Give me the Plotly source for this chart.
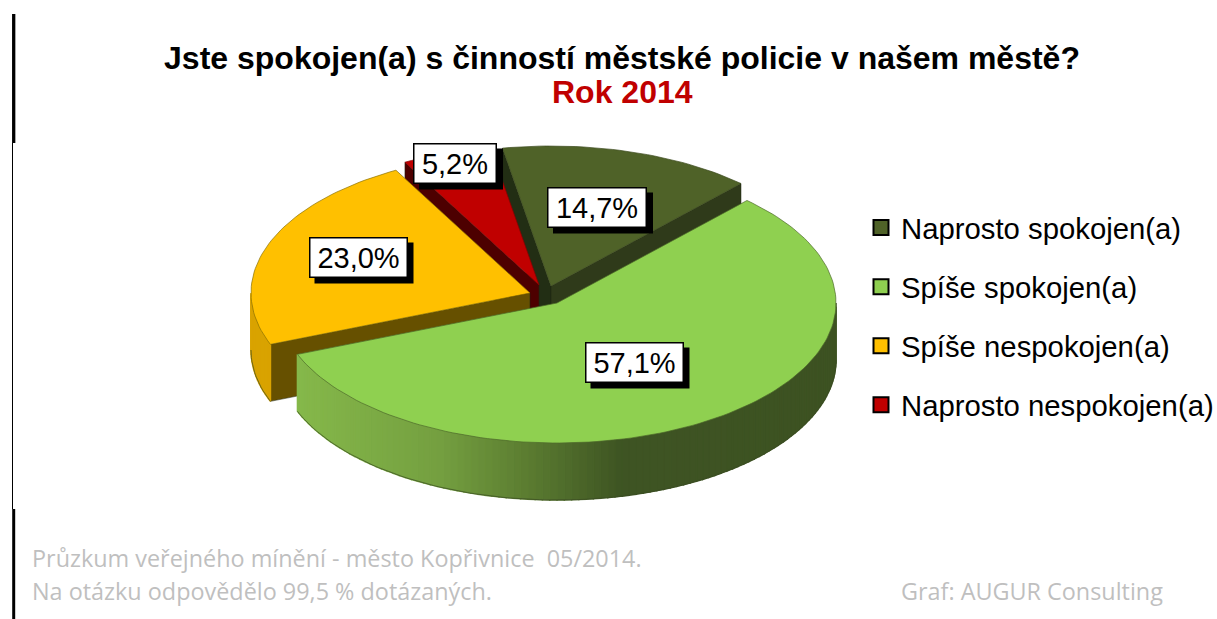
import math
import plotly.graph_objects as go

# ---- data ----
categories = ["Naprosto spokojen(a)", "Spíše spokojen(a)", "Spíše nespokojen(a)", "Naprosto nespokojen(a)"]
values = [14.7, 57.1, 23.0, 5.2]
title_line = "Jste spokojen(a) s činností městské policie v našem městě?"
year_line = "Rok 2014"
note_lines = ["Průzkum veřejného mínění - město Kopřivnice\u00a0\u00a005/2014.",
              "Na otázku odpovědělo 99,5 % dotázaných."]
credit = "Graf: AUGUR Consulting"

# ---- styling / layout ----
W, H = 1217, 619
CX, CY = 540, 290
RX, RY = 279, 140
DEPTH = 57
ROTATION = -10
EXPLODE_X = [11, 17, -10, -1]
EXPLODE_Y = [-4, 13, 3, -5]
DRAW_ORDER = [0, 3, 2, 1]  # back to front
TOP = ["#4F6228", "#8FD050", "#FFC000", "#C00000"]
FACE_START = ["#222E14", "#3D5222", "#665000", "#4D0000"]
FACE_END = ["#2F3A1A", "#3D5222", "#665000", "#4D0000"]
EDGE = ["#3c4a1e", "#4d6a2a", "#8a7000", "#8a0000"]
WALL_STOPS = {
    0: [(0, "#2F3A1A"), (1217, "#2F3A1A")],
    1: [(298, "#85B84A"), (440, "#749F40"), (530, "#5A7B30"), (620, "#3E5423"), (830, "#3D5222")],
    2: [(0, "#D9A300"), (1217, "#D9A300")],
    3: [(0, "#8a0000"), (1217, "#8a0000")],
}
LABEL_X = [597, 634, 358, 455]
LABEL_Y = [207, 362, 257, 163]
LABEL_W = [100, 99, 99, 84]
LABEL_H = 41
FS_LABEL = 29
FS_LEGEND = 29.3
FS_TITLE = 32
FS_NOTE = 23.4


def hex_rgb(c):
    return tuple(int(c[i:i + 2], 16) for i in (1, 3, 5))


def color_at(stops, x):
    if x <= stops[0][0]:
        return stops[0][1]
    for (x0, c0), (x1, c1) in zip(stops, stops[1:]):
        if x <= x1:
            t = (x - x0) / (x1 - x0)
            a, b = hex_rgb(c0), hex_rgb(c1)
            return "#%02x%02x%02x" % tuple(round(p + (q - p) * t) for p, q in zip(a, b))
    return stops[-1][1]


fig = go.Figure()


def poly(xs, ys, color, line=None, width=1.5):
    fig.add_trace(go.Scatter(x=xs, y=ys, mode="lines", fill="toself", fillcolor=color,
                             line=dict(color=line or color, width=width),
                             hoverinfo="skip", showlegend=False))


total = sum(values)
bounds = [ROTATION]
for v in values:
    bounds.append(bounds[-1] + v / total * 360)

for i in DRAW_ORDER:
    start, end = bounds[i], bounds[i + 1]
    ax, ay = CX + EXPLODE_X[i], CY + EXPLODE_Y[i]

    def pt(t):
        r = math.radians(t)
        return ax + RX * math.sin(r), ay - RY * math.cos(r)

    # radial cut faces, only those turned towards the viewer
    visible = []
    if math.sin(math.radians(start)) < 0:
        visible.append((start, FACE_START[i]))
    if math.sin(math.radians(end)) > 0:
        visible.append((end, FACE_END[i]))
    for ang, col in visible:
        px, py = pt(ang)
        poly([ax, px, px, ax, ax], [ay, py, py + DEPTH, ay + DEPTH, ay], col, "#1c2410", 0.5)

    # outer wall, only where it faces the viewer
    lo, hi = max(start, 90), min(end, 270)
    if lo < hi:
        t = lo
        while t < hi:
            t2 = min(t + 1.5, hi)
            x0, y0 = pt(t)
            x1, y1 = pt(t2)
            poly([x0, x1, x1, x0, x0], [y0, y1, y1 + DEPTH, y0 + DEPTH, y0],
                 color_at(WALL_STOPS[i], (x0 + x1) / 2))
            t = t2
        steps = max(2, int((hi - lo) / 1.5))
        rim = [pt(lo + (hi - lo) * k / steps) for k in range(steps + 1)]
        fig.add_trace(go.Scatter(x=[p[0] for p in rim], y=[p[1] + DEPTH for p in rim], mode="lines",
                                 line=dict(color="#3a4a22", width=0.7), hoverinfo="skip", showlegend=False))

    # top surface
    n = max(4, int((end - start) / 1.5))
    arc = [pt(start + (end - start) * k / n) for k in range(n + 1)]
    poly([ax] + [p[0] for p in arc] + [ax], [ay] + [p[1] for p in arc] + [ay], TOP[i], EDGE[i], 0.7)

# legend entries
for i, name in enumerate(categories):
    fig.add_trace(go.Scatter(x=[None], y=[None], mode="markers", name=name, legendgroup=name,
                             marker=dict(symbol="square", size=15, color=TOP[i],
                                         line=dict(color="#000000", width=2)),
                             hoverinfo="skip"))

shapes = []
annotations = []
for i, v in enumerate(values):
    lx, ly, lw = LABEL_X[i], LABEL_Y[i], LABEL_W[i]
    shapes.append(dict(type="rect", xref="x", yref="y", layer="above",
                       x0=lx - lw / 2 + 6, x1=lx + lw / 2 + 6,
                       y0=ly - LABEL_H / 2 + 6, y1=ly + LABEL_H / 2 + 6,
                       fillcolor="#000000", line=dict(width=0)))
    annotations.append(dict(x=lx, y=ly, xref="x", yref="y", showarrow=False,
                            text=f"{v:.1f}%".replace(".", ","),
                            font=dict(family="Liberation Sans", size=FS_LABEL, color="#000000"),
                            bgcolor="#FFFFFF", bordercolor="#000000", borderwidth=1.5,
                            borderpad=0, width=lw - 3, height=LABEL_H - 3, align="center"))

# rules on the left edge
for xp, y0, y1, wd in ((13.7, 14, 143, 3.3), (12.5, 143, 509, 1), (13.7, 509, 619, 3)):
    shapes.append(dict(type="line", xref="x", yref="y", layer="above", x0=xp, x1=xp, y0=y0, y1=y1,
                       line=dict(color="#000000", width=wd)))

annotations.append(dict(x=622, y=92, xref="x", yref="y", showarrow=False, text=year_line,
                        font=dict(family="Liberation Sans", size=FS_TITLE, color="#C00000", weight="bold")))
for txt, x, y, anchor in ((note_lines[0], 30, 558, "left"), (note_lines[1], 30, 591, "left"),
                          (credit, 1165, 591, "right")):
    annotations.append(dict(x=x, y=y, xref="x", yref="y", showarrow=False, text=txt, xanchor=anchor,
                            font=dict(family="Open Sans", size=FS_NOTE, color="#BFBFBF")))

fig.update_layout(
    width=W, height=H, autosize=False,
    margin=dict(l=0, r=0, t=0, b=0, autoexpand=False),
    paper_bgcolor="#FFFFFF", plot_bgcolor="#FFFFFF",
    hovermode=False,
    title=dict(text=title_line,
               x=622 / W, xanchor="center", xref="paper", y=1 - 58 / H, yanchor="middle", yref="paper",
               font=dict(family="Liberation Sans", size=FS_TITLE, color="#000000", weight="bold")),
    xaxis=dict(range=[0, W], visible=False, fixedrange=True),
    yaxis=dict(range=[H, 0], visible=False, fixedrange=True),
    legend=dict(x=861 / W, xanchor="left", y=1 - 202 / H, yanchor="top", tracegroupgap=18,
                bgcolor="rgba(0,0,0,0)", itemclick=False, itemdoubleclick=False,
                font=dict(family="Liberation Sans", size=FS_LEGEND, color="#000000")),
    shapes=shapes, annotations=annotations,
)
fig.write_html("out.html", config={"displayModeBar": False},
               post_script="document.body.style.margin='0';document.body.style.overflow='hidden';")
